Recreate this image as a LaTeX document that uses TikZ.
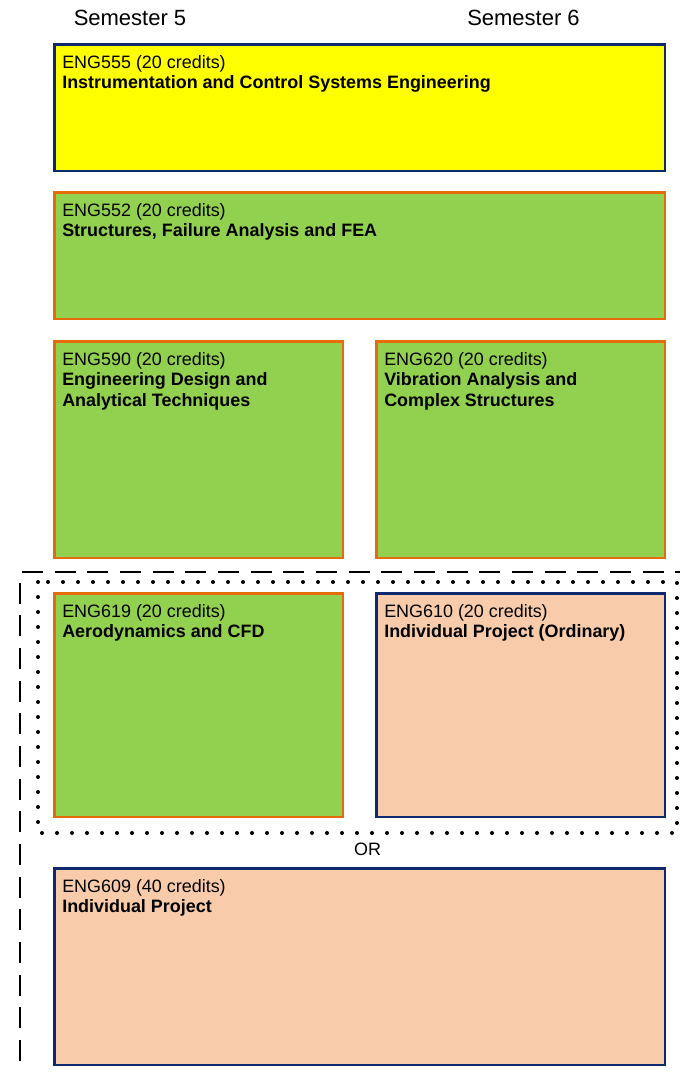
\documentclass[tikz,border=0pt]{standalone}
\usepackage{fontspec}
\setmainfont{Liberation Sans}
\definecolor{cyel}{HTML}{FFFF00}
\definecolor{cgreen}{HTML}{92D050}
\definecolor{corange}{HTML}{E46C0A}
\definecolor{cnavy}{HTML}{0E2A6E}
\definecolor{cpeach}{HTML}{F8CBAA}
\begin{document}
\begin{tikzpicture}[x=0.75pt,y=-0.75pt,
  box/.style={draw, line width=1.9pt, inner sep=0pt, anchor=north west},
  yelbox/.style={box, fill=cyel, draw=cnavy},
  grnbox/.style={box, fill=cgreen, draw=corange},
  pchbox/.style={box, fill=cpeach, draw=cnavy},
  wide/.style={minimum width=457.85pt},
  narrow/.style={minimum width=216.35pt},
  txt/.style={anchor=base west, inner sep=0pt, align=left, font=\fontsize{13.45}{15.6}\selectfont},
  semlbl/.style={inner sep=0pt, font=\fontsize{16.5}{18}\selectfont},
  orlbl/.style={inner sep=0pt, font=\fontsize{13.45}{15.6}\selectfont},
  dashline/.style={line width=1.8pt, dash pattern=on 15.75pt off 8.75pt},
  dotline/.style={line width=3pt, line cap=round, dash pattern=on 0pt off 11.25pt},
]
\useasboundingbox (0,0) rectangle (680,1072);

% semester headings
\node[semlbl] (s5) at (130,17.5) {Semester 5};
\node[semlbl] (s6) at (523.5,17.5) {Semester 6};

% modules (text node anchored at the baseline of its last line)
\node[yelbox, wide, minimum height=94.85pt] (b555) at (53.3,43.3) {};
\node[txt] (t555) at (62,88.8) {ENG555 (20 credits)\\\textbf{Instrumentation and Control Systems Engineering}};

\node[grnbox, wide, minimum height=94.85pt] (b552) at (53.3,191.3) {};
\node[txt] (t552) at (62,236.8) {ENG552 (20 credits)\\\textbf{Structures, Failure Analysis and FEA}};

\node[grnbox, narrow, minimum height=162.35pt] (b590) at (53.3,340.3) {};
\node[txt] (t590) at (62,406.6) {ENG590 (20 credits)\\\textbf{Engineering Design and}\\\textbf{Analytical Techniques}};

\node[grnbox, narrow, minimum height=162.35pt] (b620) at (375.3,340.3) {};
\node[txt] (t620) at (384,406.6) {ENG620 (20 credits)\\\textbf{Vibration Analysis and}\\\textbf{Complex Structures}};

\node[grnbox, narrow, minimum height=167.6pt] (b619) at (53.3,592.3) {};
\node[txt] (t619) at (62,637.8) {ENG619 (20 credits)\\\textbf{Aerodynamics and CFD}};

\node[pchbox, narrow, minimum height=167.6pt] (b610) at (375.3,592.3) {};
\node[txt] (t610) at (384,637.8) {ENG610 (20 credits)\\\textbf{Individual Project (Ordinary)}};

\node[pchbox, wide, minimum height=147.35pt] (b609) at (53.3,867.3) {};
\node[txt] (t609) at (62,912.8) {ENG609 (40 credits)\\\textbf{Individual Project}};

\node[orlbl] (or) at (367.5,849) {OR};

% dashed outline (left and top)
\coordinate (dv1) at (20,1061);
\coordinate (dv2) at (20,582);
\coordinate (dh1) at (22,572);
\coordinate (dh2) at (680,572);
\draw[dashline] (dv1) -- (dv2);
\draw[dashline] (dh1) -- (dh2);

% dotted outline
\coordinate (p1) at (38,582);
\coordinate (p2) at (677,833);
\draw[dotline] (p1) rectangle (p2);
\end{tikzpicture}
\end{document}
